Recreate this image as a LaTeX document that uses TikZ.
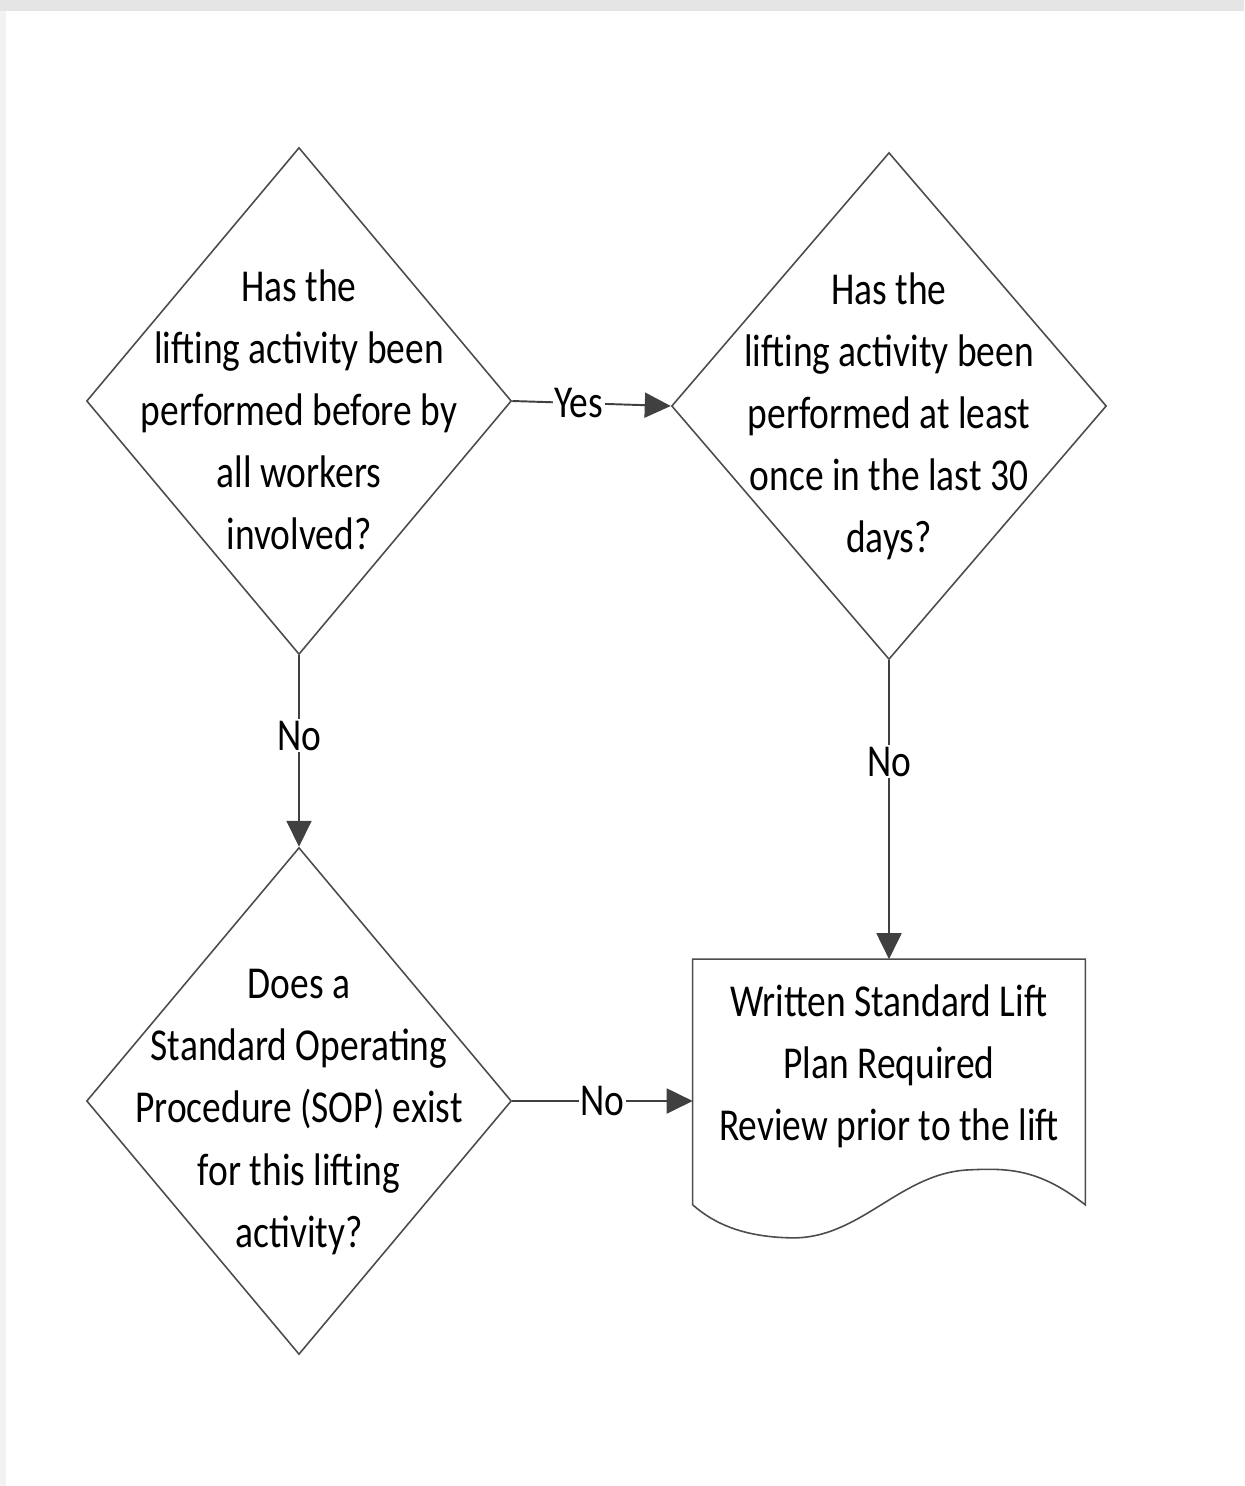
\documentclass[tikz,border=0pt]{standalone}
\usepackage{fontspec}
\setmainfont[FakeStretch=0.82]{Carlito}
\usetikzlibrary{shapes.geometric,arrows.meta,calc}
\begin{document}
\begin{tikzpicture}[x=0.02cm,y=-0.02cm,
    decision/.style={diamond,draw=black!70,line width=0.9pt,inner sep=0pt,minimum width=8.5cm,minimum height=10.14cm},
    qtext/.style={align=center,inner sep=0pt,font=\fontsize{26}{35.3}\selectfont},
    flow/.style={draw=black!75,line width=1.1pt,-{Triangle[length=0.52cm,width=0.5cm]}},
    lab/.style={fill=white,inner sep=1pt,font=\fontsize{26}{35.3}\selectfont}]
      \useasboundingbox (0,0) rectangle (1244,1486);
      \fill[black!10] (0,0) rectangle (1244,11);
      \fill[black!5] (0,11) rectangle (6,1486);
      \node[decision] (q1) at (299,401) {};
      \node[decision,minimum width=8.7cm] (q2) at (889,406) {};
      \node[decision] (q3) at (299,1101) {};
      \node[inner sep=0pt,minimum width=7.84cm,minimum height=4.9cm] (doc) at (889,1082) {};
      \draw[black!70,line width=0.9pt] (doc.south west) -- (doc.north west) -- (doc.north east) -- (doc.south east)
        .. controls ($(doc.south east)+(-45,-35)$) and ($(doc.south east)+(-75,-37)$) .. ($(doc.south east)+(-115,-35)$)
        .. controls ($(doc.south east)+(-185,-33)$) and ($(doc.south east)+(-225,35)$) .. ($(doc.south east)+(-295,33)$)
        .. controls ($(doc.south east)+(-340,32)$) and ($(doc.south east)+(-370,20)$) .. (doc.south west);
      \node[qtext] (t1) at (299,410) {Has the\\lifting activity been\\performed before by\\all workers\\involved?};
      \node[qtext] (t2) at (889,416) {Has the\\lifting activity been\\performed at least\\once in the last 30\\days?};
      \node[qtext] (t3) at (299,1112) {Does a\\Standard Operating\\Procedure (SOP) exist\\for this lifting\\activity?};
      \node[qtext] (t4) at (889,1066) {Written Standard Lift\\Plan Required\\Review prior to the lift};
      \draw[flow] (q1.east) -- node[lab,pos=0.42] {Yes} (q2.west);
      \draw[flow] (q1.south) -- node[lab,pos=0.42] {No} (q3.north);
      \draw[flow] (q2.south) -- node[lab,pos=0.34] {No} (doc.north);
      \draw[flow] (q3.east) -- node[lab,pos=0.5] {No} (q3.east -| doc.west);
\end{tikzpicture}
\end{document}
